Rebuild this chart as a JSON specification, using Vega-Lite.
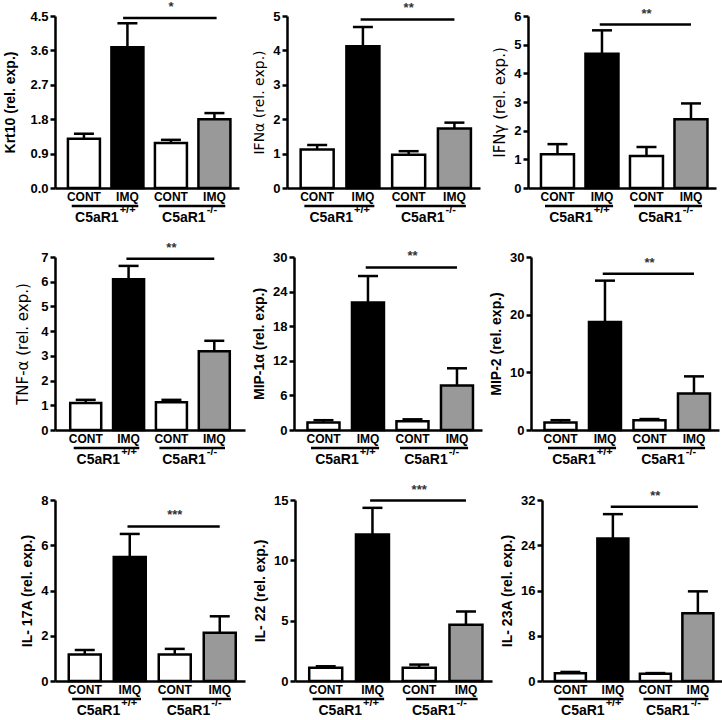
{
"$schema": "https://vega.github.io/schema/vega-lite/v6.json",
"background": "white",
"padding": {"left": 3, "top": 0, "right": 4, "bottom": 0},
"datasets": {
"bars": [
{"panel":"p1","pos":1,"label":"CONT","kind":"CONT","value":1.29,"err":1.42},
{"panel":"p1","pos":2,"label":"IMQ","kind":"IMQ+/+","value":3.68,"err":4.31},
{"panel":"p1","pos":3,"label":"CONT","kind":"CONT","value":1.18,"err":1.26},
{"panel":"p1","pos":4,"label":"IMQ","kind":"IMQ-/-","value":1.8,"err":1.96},
{"panel":"p2","pos":1,"label":"CONT","kind":"CONT","value":1.12,"err":1.25},
{"panel":"p2","pos":2,"label":"IMQ","kind":"IMQ+/+","value":4.12,"err":4.68},
{"panel":"p2","pos":3,"label":"CONT","kind":"CONT","value":0.97,"err":1.07},
{"panel":"p2","pos":4,"label":"IMQ","kind":"IMQ-/-","value":1.73,"err":1.9},
{"panel":"p3","pos":1,"label":"CONT","kind":"CONT","value":1.18,"err":1.53},
{"panel":"p3","pos":2,"label":"IMQ","kind":"IMQ+/+","value":4.68,"err":5.5},
{"panel":"p3","pos":3,"label":"CONT","kind":"CONT","value":1.12,"err":1.43},
{"panel":"p3","pos":4,"label":"IMQ","kind":"IMQ-/-","value":2.4,"err":2.95},
{"panel":"p4","pos":1,"label":"CONT","kind":"CONT","value":1.09,"err":1.22},
{"panel":"p4","pos":2,"label":"IMQ","kind":"IMQ+/+","value":6.1,"err":6.64},
{"panel":"p4","pos":3,"label":"CONT","kind":"CONT","value":1.12,"err":1.22},
{"panel":"p4","pos":4,"label":"IMQ","kind":"IMQ-/-","value":3.19,"err":3.61},
{"panel":"p5","pos":1,"label":"CONT","kind":"CONT","value":1.3,"err":1.7},
{"panel":"p5","pos":2,"label":"IMQ","kind":"IMQ+/+","value":22.1,"err":26.7},
{"panel":"p5","pos":3,"label":"CONT","kind":"CONT","value":1.5,"err":1.85},
{"panel":"p5","pos":4,"label":"IMQ","kind":"IMQ-/-","value":7.7,"err":10.7},
{"panel":"p6","pos":1,"label":"CONT","kind":"CONT","value":1.3,"err":1.7},
{"panel":"p6","pos":2,"label":"IMQ","kind":"IMQ+/+","value":18.75,"err":25.9},
{"panel":"p6","pos":3,"label":"CONT","kind":"CONT","value":1.7,"err":1.9},
{"panel":"p6","pos":4,"label":"IMQ","kind":"IMQ-/-","value":6.35,"err":9.3},
{"panel":"p7","pos":1,"label":"CONT","kind":"CONT","value":1.17,"err":1.37},
{"panel":"p7","pos":2,"label":"IMQ","kind":"IMQ+/+","value":5.48,"err":6.5},
{"panel":"p7","pos":3,"label":"CONT","kind":"CONT","value":1.17,"err":1.42},
{"panel":"p7","pos":4,"label":"IMQ","kind":"IMQ-/-","value":2.13,"err":2.86},
{"panel":"p8","pos":1,"label":"CONT","kind":"CONT","value":1.09,"err":1.22},
{"panel":"p8","pos":2,"label":"IMQ","kind":"IMQ+/+","value":12.15,"err":14.35},
{"panel":"p8","pos":3,"label":"CONT","kind":"CONT","value":1.09,"err":1.36},
{"panel":"p8","pos":4,"label":"IMQ","kind":"IMQ-/-","value":4.67,"err":5.76},
{"panel":"p9","pos":1,"label":"CONT","kind":"CONT","value":1.35,"err":1.6},
{"panel":"p9","pos":2,"label":"IMQ","kind":"IMQ+/+","value":25.2,"err":29.5},
{"panel":"p9","pos":3,"label":"CONT","kind":"CONT","value":1.3,"err":1.4},
{"panel":"p9","pos":4,"label":"IMQ","kind":"IMQ-/-","value":12.0,"err":15.85}
],
"sig": [
{"panel":"p1","x1":1.9,"x2":4.05,"xs":3.0,"y":4.45,"stars":"*"},
{"panel":"p2","x1":1.95,"x2":4.0,"xs":3.0,"y":4.9,"stars":"**"},
{"panel":"p3","x1":1.95,"x2":4.0,"xs":3.0,"y":5.7,"stars":"**"},
{"panel":"p4","x1":1.95,"x2":4.0,"xs":3.0,"y":6.93,"stars":"**"},
{"panel":"p5","x1":1.95,"x2":4.0,"xs":3.0,"y":28.2,"stars":"**"},
{"panel":"p6","x1":1.95,"x2":4.0,"xs":3.0,"y":27.1,"stars":"**"},
{"panel":"p7","x1":1.95,"x2":4.0,"xs":3.0,"y":6.83,"stars":"***"},
{"panel":"p8","x1":1.95,"x2":4.0,"xs":3.0,"y":14.95,"stars":"***"},
{"panel":"p9","x1":1.95,"x2":4.0,"xs":3.0,"y":30.8,"stars":"**"}
],
"groups": [
{"g":"C5aR1","sup":"+/+","xc":1.5,"x1":0.72,"x2":2.25},
{"g":"C5aR1","sup":"-/-","xc":3.5,"x1":2.72,"x2":4.25}
]
},
"config": {
"view": {"stroke": null},
"axis": {"grid": false, "tickCount": 20, "labelOverlap": false, "domainColor": "black", "domainWidth": 2.5, "tickColor": "black", "tickWidth": 2.5, "tickSize": 5, "labelFont": "Liberation Sans", "labelFontWeight": "bold", "labelFontSize": 13, "labelColor": "black", "labelPadding": 2, "titleFont": "Liberation Sans", "titleFontSize": 14, "titleFontWeight": "bold", "titleColor": "black", "titlePadding": 6},
"text": {"font": "Liberation Sans", "fontWeight": "bold", "color": "black"}
},
"spacing": 16,
"vconcat": [
{"spacing": 48, "bounds": "flush", "hconcat": [
{"width": 184, "height": 172, "layer": [
{"data": {"name": "bars"}, "transform": [{"filter": "datum.panel == 'p1'"}], "mark": {"type": "bar", "orient": "vertical", "width": 32, "stroke": "black", "strokeWidth": 2.5}, "encoding": {"x": {"field": "pos", "type": "quantitative", "scale": {"domain": [0.45, 4.45], "zero": false, "nice": false}, "axis": {"ticks": false, "labels": false, "title": null}}, "y": {"field": "value", "type": "quantitative", "scale": {"domain": [0, 4.5], "nice": false}, "axis": {"values": [0, 0.9, 1.8, 2.7, 3.6, 4.5], "format": ".1f", "title": "Krt10 (rel. exp.)", "titlePadding": 12}}, "fill": {"field": "kind", "type": "nominal", "scale": {"domain": ["CONT", "IMQ+/+", "IMQ-/-"], "range": ["white", "black", "#999999"]}, "legend": null}}},
{"data": {"name": "bars"}, "transform": [{"filter": "datum.panel == 'p1'"}], "mark": {"type": "rule", "strokeWidth": 2.5, "color": "black"}, "encoding": {"x": {"field": "pos", "type": "quantitative"}, "y": {"field": "value", "type": "quantitative"}, "y2": {"field": "err"}}},
{"data": {"name": "bars"}, "transform": [{"filter": "datum.panel == 'p1'"}], "mark": {"type": "tick", "orient": "horizontal", "size": 20, "thickness": 2.5, "color": "black", "opacity": 1}, "encoding": {"x": {"field": "pos", "type": "quantitative"}, "y": {"field": "err", "type": "quantitative"}}},
{"data": {"name": "bars"}, "transform": [{"filter": "datum.panel == 'p1'"}], "mark": {"type": "text", "dy": 9, "baseline": "middle", "fontSize": 12}, "encoding": {"x": {"field": "pos", "type": "quantitative"}, "y": {"datum": 0}, "text": {"field": "label"}}},
{"data": {"name": "sig"}, "transform": [{"filter": "datum.panel == 'p1'"}], "mark": {"type": "rule", "strokeWidth": 2.5, "color": "black"}, "encoding": {"x": {"field": "x1", "type": "quantitative"}, "x2": {"field": "x2"}, "y": {"field": "y", "type": "quantitative"}}},
{"data": {"name": "sig"}, "transform": [{"filter": "datum.panel == 'p1'"}], "mark": {"type": "text", "dy": -4, "baseline": "bottom", "fontSize": 13, "color": "#333333"}, "encoding": {"x": {"field": "xs", "type": "quantitative"}, "y": {"field": "y", "type": "quantitative"}, "text": {"field": "stars"}}},
{"data": {"name": "groups"}, "mark": {"type": "rule", "strokeWidth": 2.5, "color": "black", "yOffset": 18}, "encoding": {"x": {"field": "x1", "type": "quantitative"}, "x2": {"field": "x2"}, "y": {"datum": 0}}},
{"data": {"name": "groups"}, "mark": {"type": "text", "align": "right", "dx": 13, "dy": 30, "baseline": "middle", "fontSize": 14}, "encoding": {"x": {"field": "xc", "type": "quantitative"}, "y": {"datum": 0}, "text": {"field": "g"}}},
{"data": {"name": "groups"}, "mark": {"type": "text", "align": "left", "dx": 14, "dy": 22, "baseline": "middle", "fontSize": 11}, "encoding": {"x": {"field": "xc", "type": "quantitative"}, "y": {"datum": 0}, "text": {"field": "sup"}}}
]},
{"width": 193, "height": 172, "layer": [
{"data": {"name": "bars"}, "transform": [{"filter": "datum.panel == 'p2'"}], "mark": {"type": "bar", "orient": "vertical", "width": 33, "stroke": "black", "strokeWidth": 2.5}, "encoding": {"x": {"field": "pos", "type": "quantitative", "scale": {"domain": [0.45, 4.45], "zero": false, "nice": false}, "axis": {"ticks": false, "labels": false, "title": null}}, "y": {"field": "value", "type": "quantitative", "scale": {"domain": [0, 5], "nice": false}, "axis": {"values": [0, 1, 2, 3, 4, 5], "format": "d", "title": "IFNα (rel. exp.)", "titleFontWeight": "normal", "titleFont": "DejaVu Sans", "titleFontSize": 14}}, "fill": {"field": "kind", "type": "nominal", "scale": {"domain": ["CONT", "IMQ+/+", "IMQ-/-"], "range": ["white", "black", "#999999"]}, "legend": null}}},
{"data": {"name": "bars"}, "transform": [{"filter": "datum.panel == 'p2'"}], "mark": {"type": "rule", "strokeWidth": 2.5, "color": "black"}, "encoding": {"x": {"field": "pos", "type": "quantitative"}, "y": {"field": "value", "type": "quantitative"}, "y2": {"field": "err"}}},
{"data": {"name": "bars"}, "transform": [{"filter": "datum.panel == 'p2'"}], "mark": {"type": "tick", "orient": "horizontal", "size": 20, "thickness": 2.5, "color": "black", "opacity": 1}, "encoding": {"x": {"field": "pos", "type": "quantitative"}, "y": {"field": "err", "type": "quantitative"}}},
{"data": {"name": "bars"}, "transform": [{"filter": "datum.panel == 'p2'"}], "mark": {"type": "text", "dy": 9, "baseline": "middle", "fontSize": 12}, "encoding": {"x": {"field": "pos", "type": "quantitative"}, "y": {"datum": 0}, "text": {"field": "label"}}},
{"data": {"name": "sig"}, "transform": [{"filter": "datum.panel == 'p2'"}], "mark": {"type": "rule", "strokeWidth": 2.5, "color": "black"}, "encoding": {"x": {"field": "x1", "type": "quantitative"}, "x2": {"field": "x2"}, "y": {"field": "y", "type": "quantitative"}}},
{"data": {"name": "sig"}, "transform": [{"filter": "datum.panel == 'p2'"}], "mark": {"type": "text", "dy": -4, "baseline": "bottom", "fontSize": 13, "color": "#333333"}, "encoding": {"x": {"field": "xs", "type": "quantitative"}, "y": {"field": "y", "type": "quantitative"}, "text": {"field": "stars"}}},
{"data": {"name": "groups"}, "mark": {"type": "rule", "strokeWidth": 2.5, "color": "black", "yOffset": 18}, "encoding": {"x": {"field": "x1", "type": "quantitative"}, "x2": {"field": "x2"}, "y": {"datum": 0}}},
{"data": {"name": "groups"}, "mark": {"type": "text", "align": "right", "dx": 13, "dy": 30, "baseline": "middle", "fontSize": 14}, "encoding": {"x": {"field": "xc", "type": "quantitative"}, "y": {"datum": 0}, "text": {"field": "g"}}},
{"data": {"name": "groups"}, "mark": {"type": "text", "align": "left", "dx": 14, "dy": 22, "baseline": "middle", "fontSize": 11}, "encoding": {"x": {"field": "xc", "type": "quantitative"}, "y": {"datum": 0}, "text": {"field": "sup"}}}
]},
{"width": 188, "height": 172, "layer": [
{"data": {"name": "bars"}, "transform": [{"filter": "datum.panel == 'p3'"}], "mark": {"type": "bar", "orient": "vertical", "width": 33, "stroke": "black", "strokeWidth": 2.5}, "encoding": {"x": {"field": "pos", "type": "quantitative", "scale": {"domain": [0.45, 4.45], "zero": false, "nice": false}, "axis": {"ticks": false, "labels": false, "title": null}}, "y": {"field": "value", "type": "quantitative", "scale": {"domain": [0, 6], "nice": false}, "axis": {"values": [0, 1, 2, 3, 4, 5, 6], "format": "d", "title": "IFNγ (rel. exp.)", "titleFontWeight": "normal", "titleFont": "DejaVu Sans", "titleFontSize": 15}}, "fill": {"field": "kind", "type": "nominal", "scale": {"domain": ["CONT", "IMQ+/+", "IMQ-/-"], "range": ["white", "black", "#8c8c8c"]}, "legend": null}}},
{"data": {"name": "bars"}, "transform": [{"filter": "datum.panel == 'p3'"}], "mark": {"type": "rule", "strokeWidth": 2.5, "color": "black"}, "encoding": {"x": {"field": "pos", "type": "quantitative"}, "y": {"field": "value", "type": "quantitative"}, "y2": {"field": "err"}}},
{"data": {"name": "bars"}, "transform": [{"filter": "datum.panel == 'p3'"}], "mark": {"type": "tick", "orient": "horizontal", "size": 20, "thickness": 2.5, "color": "black", "opacity": 1}, "encoding": {"x": {"field": "pos", "type": "quantitative"}, "y": {"field": "err", "type": "quantitative"}}},
{"data": {"name": "bars"}, "transform": [{"filter": "datum.panel == 'p3'"}], "mark": {"type": "text", "dy": 9, "baseline": "middle", "fontSize": 12}, "encoding": {"x": {"field": "pos", "type": "quantitative"}, "y": {"datum": 0}, "text": {"field": "label"}}},
{"data": {"name": "sig"}, "transform": [{"filter": "datum.panel == 'p3'"}], "mark": {"type": "rule", "strokeWidth": 2.5, "color": "black"}, "encoding": {"x": {"field": "x1", "type": "quantitative"}, "x2": {"field": "x2"}, "y": {"field": "y", "type": "quantitative"}}},
{"data": {"name": "sig"}, "transform": [{"filter": "datum.panel == 'p3'"}], "mark": {"type": "text", "dy": -4, "baseline": "bottom", "fontSize": 13, "color": "#333333"}, "encoding": {"x": {"field": "xs", "type": "quantitative"}, "y": {"field": "y", "type": "quantitative"}, "text": {"field": "stars"}}},
{"data": {"name": "groups"}, "mark": {"type": "rule", "strokeWidth": 2.5, "color": "black", "yOffset": 18}, "encoding": {"x": {"field": "x1", "type": "quantitative"}, "x2": {"field": "x2"}, "y": {"datum": 0}}},
{"data": {"name": "groups"}, "mark": {"type": "text", "align": "right", "dx": 13, "dy": 30, "baseline": "middle", "fontSize": 14}, "encoding": {"x": {"field": "xc", "type": "quantitative"}, "y": {"datum": 0}, "text": {"field": "g"}}},
{"data": {"name": "groups"}, "mark": {"type": "text", "align": "left", "dx": 14, "dy": 22, "baseline": "middle", "fontSize": 11}, "encoding": {"x": {"field": "xc", "type": "quantitative"}, "y": {"datum": 0}, "text": {"field": "sup"}}}
]}
]},
{"spacing": 49, "bounds": "flush", "hconcat": [
{"width": 190, "height": 173, "layer": [
{"data": {"name": "bars"}, "transform": [{"filter": "datum.panel == 'p4'"}], "mark": {"type": "bar", "orient": "vertical", "width": 31, "stroke": "black", "strokeWidth": 2.5}, "encoding": {"x": {"field": "pos", "type": "quantitative", "scale": {"domain": [0.4, 4.6], "zero": false, "nice": false}, "axis": {"ticks": false, "labels": false, "title": null}}, "y": {"field": "value", "type": "quantitative", "scale": {"domain": [0, 7], "nice": false}, "axis": {"values": [0, 1, 2, 3, 4, 5, 6, 7], "format": "d", "title": "TNF-α (rel. exp.)", "titleFontWeight": "normal", "titleFont": "DejaVu Sans", "titleFontSize": 15, "titlePadding": 10}}, "fill": {"field": "kind", "type": "nominal", "scale": {"domain": ["CONT", "IMQ+/+", "IMQ-/-"], "range": ["white", "black", "#8c8c8c"]}, "legend": null}}},
{"data": {"name": "bars"}, "transform": [{"filter": "datum.panel == 'p4'"}], "mark": {"type": "rule", "strokeWidth": 2.5, "color": "black"}, "encoding": {"x": {"field": "pos", "type": "quantitative"}, "y": {"field": "value", "type": "quantitative"}, "y2": {"field": "err"}}},
{"data": {"name": "bars"}, "transform": [{"filter": "datum.panel == 'p4'"}], "mark": {"type": "tick", "orient": "horizontal", "size": 20, "thickness": 2.5, "color": "black", "opacity": 1}, "encoding": {"x": {"field": "pos", "type": "quantitative"}, "y": {"field": "err", "type": "quantitative"}}},
{"data": {"name": "bars"}, "transform": [{"filter": "datum.panel == 'p4'"}], "mark": {"type": "text", "dy": 9, "baseline": "middle", "fontSize": 12}, "encoding": {"x": {"field": "pos", "type": "quantitative"}, "y": {"datum": 0}, "text": {"field": "label"}}},
{"data": {"name": "sig"}, "transform": [{"filter": "datum.panel == 'p4'"}], "mark": {"type": "rule", "strokeWidth": 2.5, "color": "black"}, "encoding": {"x": {"field": "x1", "type": "quantitative"}, "x2": {"field": "x2"}, "y": {"field": "y", "type": "quantitative"}}},
{"data": {"name": "sig"}, "transform": [{"filter": "datum.panel == 'p4'"}], "mark": {"type": "text", "dy": -4, "baseline": "bottom", "fontSize": 13, "color": "#333333"}, "encoding": {"x": {"field": "xs", "type": "quantitative"}, "y": {"field": "y", "type": "quantitative"}, "text": {"field": "stars"}}},
{"data": {"name": "groups"}, "mark": {"type": "rule", "strokeWidth": 2.5, "color": "black", "yOffset": 18}, "encoding": {"x": {"field": "x1", "type": "quantitative"}, "x2": {"field": "x2"}, "y": {"datum": 0}}},
{"data": {"name": "groups"}, "mark": {"type": "text", "align": "right", "dx": 13, "dy": 30, "baseline": "middle", "fontSize": 14}, "encoding": {"x": {"field": "xc", "type": "quantitative"}, "y": {"datum": 0}, "text": {"field": "g"}}},
{"data": {"name": "groups"}, "mark": {"type": "text", "align": "left", "dx": 14, "dy": 22, "baseline": "middle", "fontSize": 11}, "encoding": {"x": {"field": "xc", "type": "quantitative"}, "y": {"datum": 0}, "text": {"field": "sup"}}}
]},
{"width": 188, "height": 173, "layer": [
{"data": {"name": "bars"}, "transform": [{"filter": "datum.panel == 'p5'"}], "mark": {"type": "bar", "orient": "vertical", "width": 32, "stroke": "black", "strokeWidth": 2.5}, "encoding": {"x": {"field": "pos", "type": "quantitative", "scale": {"domain": [0.45, 4.45], "zero": false, "nice": false}, "axis": {"ticks": false, "labels": false, "title": null}}, "y": {"field": "value", "type": "quantitative", "scale": {"domain": [0, 30], "nice": false}, "axis": {"values": [0, 6, 12, 18, 24, 30], "format": "d", "title": "MIP-1α (rel. exp.)"}}, "fill": {"field": "kind", "type": "nominal", "scale": {"domain": ["CONT", "IMQ+/+", "IMQ-/-"], "range": ["white", "black", "#8c8c8c"]}, "legend": null}}},
{"data": {"name": "bars"}, "transform": [{"filter": "datum.panel == 'p5'"}], "mark": {"type": "rule", "strokeWidth": 2.5, "color": "black"}, "encoding": {"x": {"field": "pos", "type": "quantitative"}, "y": {"field": "value", "type": "quantitative"}, "y2": {"field": "err"}}},
{"data": {"name": "bars"}, "transform": [{"filter": "datum.panel == 'p5'"}], "mark": {"type": "tick", "orient": "horizontal", "size": 20, "thickness": 2.5, "color": "black", "opacity": 1}, "encoding": {"x": {"field": "pos", "type": "quantitative"}, "y": {"field": "err", "type": "quantitative"}}},
{"data": {"name": "bars"}, "transform": [{"filter": "datum.panel == 'p5'"}], "mark": {"type": "text", "dy": 9, "baseline": "middle", "fontSize": 12}, "encoding": {"x": {"field": "pos", "type": "quantitative"}, "y": {"datum": 0}, "text": {"field": "label"}}},
{"data": {"name": "sig"}, "transform": [{"filter": "datum.panel == 'p5'"}], "mark": {"type": "rule", "strokeWidth": 2.5, "color": "black"}, "encoding": {"x": {"field": "x1", "type": "quantitative"}, "x2": {"field": "x2"}, "y": {"field": "y", "type": "quantitative"}}},
{"data": {"name": "sig"}, "transform": [{"filter": "datum.panel == 'p5'"}], "mark": {"type": "text", "dy": -4, "baseline": "bottom", "fontSize": 13, "color": "#333333"}, "encoding": {"x": {"field": "xs", "type": "quantitative"}, "y": {"field": "y", "type": "quantitative"}, "text": {"field": "stars"}}},
{"data": {"name": "groups"}, "mark": {"type": "rule", "strokeWidth": 2.5, "color": "black", "yOffset": 18}, "encoding": {"x": {"field": "x1", "type": "quantitative"}, "x2": {"field": "x2"}, "y": {"datum": 0}}},
{"data": {"name": "groups"}, "mark": {"type": "text", "align": "right", "dx": 13, "dy": 30, "baseline": "middle", "fontSize": 14}, "encoding": {"x": {"field": "xc", "type": "quantitative"}, "y": {"datum": 0}, "text": {"field": "g"}}},
{"data": {"name": "groups"}, "mark": {"type": "text", "align": "left", "dx": 14, "dy": 22, "baseline": "middle", "fontSize": 11}, "encoding": {"x": {"field": "xc", "type": "quantitative"}, "y": {"datum": 0}, "text": {"field": "sup"}}}
]},
{"width": 188, "height": 173, "layer": [
{"data": {"name": "bars"}, "transform": [{"filter": "datum.panel == 'p6'"}], "mark": {"type": "bar", "orient": "vertical", "width": 32, "stroke": "black", "strokeWidth": 2.5}, "encoding": {"x": {"field": "pos", "type": "quantitative", "scale": {"domain": [0.45, 4.45], "zero": false, "nice": false}, "axis": {"ticks": false, "labels": false, "title": null}}, "y": {"field": "value", "type": "quantitative", "scale": {"domain": [0, 30], "nice": false}, "axis": {"values": [0, 10, 20, 30], "format": "d", "title": "MIP-2 (rel. exp.)"}}, "fill": {"field": "kind", "type": "nominal", "scale": {"domain": ["CONT", "IMQ+/+", "IMQ-/-"], "range": ["white", "black", "#8c8c8c"]}, "legend": null}}},
{"data": {"name": "bars"}, "transform": [{"filter": "datum.panel == 'p6'"}], "mark": {"type": "rule", "strokeWidth": 2.5, "color": "black"}, "encoding": {"x": {"field": "pos", "type": "quantitative"}, "y": {"field": "value", "type": "quantitative"}, "y2": {"field": "err"}}},
{"data": {"name": "bars"}, "transform": [{"filter": "datum.panel == 'p6'"}], "mark": {"type": "tick", "orient": "horizontal", "size": 20, "thickness": 2.5, "color": "black", "opacity": 1}, "encoding": {"x": {"field": "pos", "type": "quantitative"}, "y": {"field": "err", "type": "quantitative"}}},
{"data": {"name": "bars"}, "transform": [{"filter": "datum.panel == 'p6'"}], "mark": {"type": "text", "dy": 9, "baseline": "middle", "fontSize": 12}, "encoding": {"x": {"field": "pos", "type": "quantitative"}, "y": {"datum": 0}, "text": {"field": "label"}}},
{"data": {"name": "sig"}, "transform": [{"filter": "datum.panel == 'p6'"}], "mark": {"type": "rule", "strokeWidth": 2.5, "color": "black"}, "encoding": {"x": {"field": "x1", "type": "quantitative"}, "x2": {"field": "x2"}, "y": {"field": "y", "type": "quantitative"}}},
{"data": {"name": "sig"}, "transform": [{"filter": "datum.panel == 'p6'"}], "mark": {"type": "text", "dy": -4, "baseline": "bottom", "fontSize": 13, "color": "#333333"}, "encoding": {"x": {"field": "xs", "type": "quantitative"}, "y": {"field": "y", "type": "quantitative"}, "text": {"field": "stars"}}},
{"data": {"name": "groups"}, "mark": {"type": "rule", "strokeWidth": 2.5, "color": "black", "yOffset": 18}, "encoding": {"x": {"field": "x1", "type": "quantitative"}, "x2": {"field": "x2"}, "y": {"datum": 0}}},
{"data": {"name": "groups"}, "mark": {"type": "text", "align": "right", "dx": 13, "dy": 30, "baseline": "middle", "fontSize": 14}, "encoding": {"x": {"field": "xc", "type": "quantitative"}, "y": {"datum": 0}, "text": {"field": "g"}}},
{"data": {"name": "groups"}, "mark": {"type": "text", "align": "left", "dx": 14, "dy": 22, "baseline": "middle", "fontSize": 11}, "encoding": {"x": {"field": "xc", "type": "quantitative"}, "y": {"datum": 0}, "text": {"field": "sup"}}}
]}
]},
{"spacing": 50, "bounds": "flush", "hconcat": [
{"width": 190, "height": 181, "layer": [
{"data": {"name": "bars"}, "transform": [{"filter": "datum.panel == 'p7'"}], "mark": {"type": "bar", "orient": "vertical", "width": 32, "stroke": "black", "strokeWidth": 2.5}, "encoding": {"x": {"field": "pos", "type": "quantitative", "scale": {"domain": [0.45, 4.45], "zero": false, "nice": false}, "axis": {"ticks": false, "labels": false, "title": null}}, "y": {"field": "value", "type": "quantitative", "scale": {"domain": [0, 8], "nice": false}, "axis": {"values": [0, 2, 4, 6, 8], "format": "d", "title": "IL- 17A (rel. exp.)"}}, "fill": {"field": "kind", "type": "nominal", "scale": {"domain": ["CONT", "IMQ+/+", "IMQ-/-"], "range": ["white", "black", "#8c8c8c"]}, "legend": null}}},
{"data": {"name": "bars"}, "transform": [{"filter": "datum.panel == 'p7'"}], "mark": {"type": "rule", "strokeWidth": 2.5, "color": "black"}, "encoding": {"x": {"field": "pos", "type": "quantitative"}, "y": {"field": "value", "type": "quantitative"}, "y2": {"field": "err"}}},
{"data": {"name": "bars"}, "transform": [{"filter": "datum.panel == 'p7'"}], "mark": {"type": "tick", "orient": "horizontal", "size": 20, "thickness": 2.5, "color": "black", "opacity": 1}, "encoding": {"x": {"field": "pos", "type": "quantitative"}, "y": {"field": "err", "type": "quantitative"}}},
{"data": {"name": "bars"}, "transform": [{"filter": "datum.panel == 'p7'"}], "mark": {"type": "text", "dy": 9, "baseline": "middle", "fontSize": 12}, "encoding": {"x": {"field": "pos", "type": "quantitative"}, "y": {"datum": 0}, "text": {"field": "label"}}},
{"data": {"name": "sig"}, "transform": [{"filter": "datum.panel == 'p7'"}], "mark": {"type": "rule", "strokeWidth": 2.5, "color": "black"}, "encoding": {"x": {"field": "x1", "type": "quantitative"}, "x2": {"field": "x2"}, "y": {"field": "y", "type": "quantitative"}}},
{"data": {"name": "sig"}, "transform": [{"filter": "datum.panel == 'p7'"}], "mark": {"type": "text", "dy": -4, "baseline": "bottom", "fontSize": 13, "color": "#333333"}, "encoding": {"x": {"field": "xs", "type": "quantitative"}, "y": {"field": "y", "type": "quantitative"}, "text": {"field": "stars"}}},
{"data": {"name": "groups"}, "mark": {"type": "rule", "strokeWidth": 2.5, "color": "black", "yOffset": 18}, "encoding": {"x": {"field": "x1", "type": "quantitative"}, "x2": {"field": "x2"}, "y": {"datum": 0}}},
{"data": {"name": "groups"}, "mark": {"type": "text", "align": "right", "dx": 13, "dy": 30, "baseline": "middle", "fontSize": 14}, "encoding": {"x": {"field": "xc", "type": "quantitative"}, "y": {"datum": 0}, "text": {"field": "g"}}},
{"data": {"name": "groups"}, "mark": {"type": "text", "align": "left", "dx": 14, "dy": 22, "baseline": "middle", "fontSize": 11}, "encoding": {"x": {"field": "xc", "type": "quantitative"}, "y": {"datum": 0}, "text": {"field": "sup"}}}
]},
{"width": 197, "height": 181, "layer": [
{"data": {"name": "bars"}, "transform": [{"filter": "datum.panel == 'p8'"}], "mark": {"type": "bar", "orient": "vertical", "width": 33, "stroke": "black", "strokeWidth": 2.5}, "encoding": {"x": {"field": "pos", "type": "quantitative", "scale": {"domain": [0.45, 4.45], "zero": false, "nice": false}, "axis": {"ticks": false, "labels": false, "title": null}}, "y": {"field": "value", "type": "quantitative", "scale": {"domain": [0, 15], "nice": false}, "axis": {"values": [0, 5, 10, 15], "format": "d", "title": "IL- 22 (rel. exp.)"}}, "fill": {"field": "kind", "type": "nominal", "scale": {"domain": ["CONT", "IMQ+/+", "IMQ-/-"], "range": ["white", "black", "#8c8c8c"]}, "legend": null}}},
{"data": {"name": "bars"}, "transform": [{"filter": "datum.panel == 'p8'"}], "mark": {"type": "rule", "strokeWidth": 2.5, "color": "black"}, "encoding": {"x": {"field": "pos", "type": "quantitative"}, "y": {"field": "value", "type": "quantitative"}, "y2": {"field": "err"}}},
{"data": {"name": "bars"}, "transform": [{"filter": "datum.panel == 'p8'"}], "mark": {"type": "tick", "orient": "horizontal", "size": 20, "thickness": 2.5, "color": "black", "opacity": 1}, "encoding": {"x": {"field": "pos", "type": "quantitative"}, "y": {"field": "err", "type": "quantitative"}}},
{"data": {"name": "bars"}, "transform": [{"filter": "datum.panel == 'p8'"}], "mark": {"type": "text", "dy": 9, "baseline": "middle", "fontSize": 12}, "encoding": {"x": {"field": "pos", "type": "quantitative"}, "y": {"datum": 0}, "text": {"field": "label"}}},
{"data": {"name": "sig"}, "transform": [{"filter": "datum.panel == 'p8'"}], "mark": {"type": "rule", "strokeWidth": 2.5, "color": "black"}, "encoding": {"x": {"field": "x1", "type": "quantitative"}, "x2": {"field": "x2"}, "y": {"field": "y", "type": "quantitative"}}},
{"data": {"name": "sig"}, "transform": [{"filter": "datum.panel == 'p8'"}], "mark": {"type": "text", "dy": -4, "baseline": "bottom", "fontSize": 13, "color": "#333333"}, "encoding": {"x": {"field": "xs", "type": "quantitative"}, "y": {"field": "y", "type": "quantitative"}, "text": {"field": "stars"}}},
{"data": {"name": "groups"}, "mark": {"type": "rule", "strokeWidth": 2.5, "color": "black", "yOffset": 18}, "encoding": {"x": {"field": "x1", "type": "quantitative"}, "x2": {"field": "x2"}, "y": {"datum": 0}}},
{"data": {"name": "groups"}, "mark": {"type": "text", "align": "right", "dx": 13, "dy": 30, "baseline": "middle", "fontSize": 14}, "encoding": {"x": {"field": "xc", "type": "quantitative"}, "y": {"datum": 0}, "text": {"field": "g"}}},
{"data": {"name": "groups"}, "mark": {"type": "text", "align": "left", "dx": 14, "dy": 22, "baseline": "middle", "fontSize": 11}, "encoding": {"x": {"field": "xc", "type": "quantitative"}, "y": {"datum": 0}, "text": {"field": "sup"}}}
]},
{"width": 180, "height": 181, "layer": [
{"data": {"name": "bars"}, "transform": [{"filter": "datum.panel == 'p9'"}], "mark": {"type": "bar", "orient": "vertical", "width": 31, "stroke": "black", "strokeWidth": 2.5}, "encoding": {"x": {"field": "pos", "type": "quantitative", "scale": {"domain": [0.45, 4.45], "zero": false, "nice": false}, "axis": {"ticks": false, "labels": false, "title": null}}, "y": {"field": "value", "type": "quantitative", "scale": {"domain": [0, 32], "nice": false}, "axis": {"values": [0, 8, 16, 24, 32], "format": "d", "title": "IL- 23A (rel. exp.)"}}, "fill": {"field": "kind", "type": "nominal", "scale": {"domain": ["CONT", "IMQ+/+", "IMQ-/-"], "range": ["white", "black", "#999999"]}, "legend": null}}},
{"data": {"name": "bars"}, "transform": [{"filter": "datum.panel == 'p9'"}], "mark": {"type": "rule", "strokeWidth": 2.5, "color": "black"}, "encoding": {"x": {"field": "pos", "type": "quantitative"}, "y": {"field": "value", "type": "quantitative"}, "y2": {"field": "err"}}},
{"data": {"name": "bars"}, "transform": [{"filter": "datum.panel == 'p9'"}], "mark": {"type": "tick", "orient": "horizontal", "size": 20, "thickness": 2.5, "color": "black", "opacity": 1}, "encoding": {"x": {"field": "pos", "type": "quantitative"}, "y": {"field": "err", "type": "quantitative"}}},
{"data": {"name": "bars"}, "transform": [{"filter": "datum.panel == 'p9'"}], "mark": {"type": "text", "dy": 9, "baseline": "middle", "fontSize": 12}, "encoding": {"x": {"field": "pos", "type": "quantitative"}, "y": {"datum": 0}, "text": {"field": "label"}}},
{"data": {"name": "sig"}, "transform": [{"filter": "datum.panel == 'p9'"}], "mark": {"type": "rule", "strokeWidth": 2.5, "color": "black"}, "encoding": {"x": {"field": "x1", "type": "quantitative"}, "x2": {"field": "x2"}, "y": {"field": "y", "type": "quantitative"}}},
{"data": {"name": "sig"}, "transform": [{"filter": "datum.panel == 'p9'"}], "mark": {"type": "text", "dy": -4, "baseline": "bottom", "fontSize": 13, "color": "#333333"}, "encoding": {"x": {"field": "xs", "type": "quantitative"}, "y": {"field": "y", "type": "quantitative"}, "text": {"field": "stars"}}},
{"data": {"name": "groups"}, "mark": {"type": "rule", "strokeWidth": 2.5, "color": "black", "yOffset": 18}, "encoding": {"x": {"field": "x1", "type": "quantitative"}, "x2": {"field": "x2"}, "y": {"datum": 0}}},
{"data": {"name": "groups"}, "mark": {"type": "text", "align": "right", "dx": 13, "dy": 30, "baseline": "middle", "fontSize": 14}, "encoding": {"x": {"field": "xc", "type": "quantitative"}, "y": {"datum": 0}, "text": {"field": "g"}}},
{"data": {"name": "groups"}, "mark": {"type": "text", "align": "left", "dx": 14, "dy": 22, "baseline": "middle", "fontSize": 11}, "encoding": {"x": {"field": "xc", "type": "quantitative"}, "y": {"datum": 0}, "text": {"field": "sup"}}}
]}
]}
]
}
